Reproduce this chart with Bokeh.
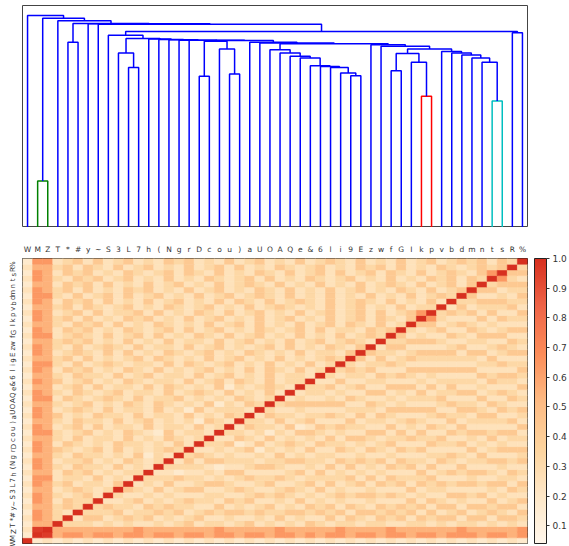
import math
import numpy as np
from bokeh.plotting import figure
from bokeh.layouts import column
from bokeh.models import (Range1d, FixedTicker, CustomJSTickFormatter, ColorBar,
                          LinearColorMapper, PrintfTickFormatter, ColumnDataSource)
from bokeh.transform import transform
from bokeh.embed import file_html
from bokeh.resources import INLINE

# ---------------- data ----------------
labels = ["W", "M", "Z", "T", "*", "#", "y", "~", "S", "3", "L", "7", "h", "(", "N", "g", "r",
          "D", "c", "o", "u", ")", "a", "U", "O", "A", "Q", "e", "&", "6", "l", "i", "9", "E",
          "z", "w", "f", "G", "I", "k", "p", "v", "b", "d", "m", "n", "t", "s", "R", "%"]

# linkage: node ids 0..49 are leaves, merge k creates node 50+k
merge_left = [1, 4, 10, 9, 17, 20, 19, 54, 32, 31, 30, 29, 28, 27, 26, 25, 24, 39, 38, 36, 69,
              46, 45, 44, 43, 42, 41, 70, 35, 34, 66, 23, 22, 57, 16, 15, 14, 13, 12, 53, 8, 48,
              90, 7, 6, 51, 3, 50, 0]
merge_right = [2, 5, 11, 52, 18, 21, 55, 56, 33, 58, 59, 60, 61, 62, 63, 64, 65, 40, 67, 37, 68,
               47, 71, 72, 73, 74, 75, 76, 77, 78, 79, 80, 81, 82, 83, 84, 85, 86, 87, 88, 89, 49,
               91, 92, 93, 94, 95, 96, 97]
merge_height = [0.210, 0.834, 0.721, 0.786, 0.681, 0.691, 0.804, 0.839, 0.684, 0.696, 0.721,
                0.725, 0.729, 0.763, 0.771, 0.786, 0.801, 0.591, 0.744, 0.706, 0.784, 0.570,
                0.744, 0.763, 0.777, 0.786, 0.793, 0.804, 0.816, 0.823, 0.828, 0.831, 0.835,
                0.842, 0.843, 0.844, 0.846, 0.847, 0.849, 0.851, 0.866, 0.877, 0.883, 0.915,
                0.918, 0.919, 0.931, 0.943, 0.955]
color_threshold = 0.65

# correlation matrix, lower triangle: row i holds columns 0..i-1 as level digits
level_values = [0.05, 0.12, 0.18, 0.25, 0.33, 0.43, 0.55, 0.64, 0.80, 0.96]
corr_rows = [
    "",
    "2",
    "39",
    "266",
    "3764",
    "27643",
    "366454",
    "2763544",
    "37643453",
    "266345434",
    "3764534435",
    "2773443534 3",
    "3663545343 44",
    "2764354435 343",
    "3763445343 5434",
    "2664354434 35243",
    "3765434535 343454",
    "2763543435 4434353",
    "3664353443 53435434",
    "2774345343 543253443",
    "3763453534 4353443534",
    "2664354435 3453434254 3",
    "3765343544 3534435343 54",
    "2763454353 4435342534 443",
    "3664345343 5435434352 4354",
    "2773543454 3534453434 35434",
    "3764354345 3443534543 534353",
    "2663453534 4353543435 2434543",
    "3765345343 5434435345 35435344",
    "2664354435 3453443534 534353443",
    "3763545343 5435343453 4353543534",
    "2774353454 3443535434 5343534353 4",
    "3664535343 4535434353 4534353434 54",
    "2763454353 5343543453 4354343534 435",
    "3764353454 3534435345 3434535343 5435",
    "2664545343 5343534435 3453435345 34543",
    "3773454353 4535343543 5345343534 353454",
    "2763545343 5434535345 3435434535 3443545",
    "3664354535 3435434353 4535343534 53543534",
    "2764535343 5453435345 3435345343 534535435",
    "3763453534 4535343543 5345343534 5345353457",
    "2664535434 5343543453 4353454343 5345343534 4",
    "3763545353 4353453435 3543534543 5345435343 53",
    "2774353453 5345343534 5345435343 5343534353 454",
    "3764535343 5453435345 3435435343 5345343543 5345",
    "2663545353 4353453435 3454353435 3435345435 34535",
    "3764354534 5343534354 3453534354 3453435343 545354",
    "2763545343 5434535435 3435435345 3534535435 3454357",
    "3664535435 3453435345 3534354345 3435453534 35434545",
    "2773453534 5343545343 5345343534 5435343534 534545354",
]

cbar_ticks = [0.1, 0.2, 0.3, 0.4, 0.5, 0.6, 0.7, 0.8, 0.9, 1.0]
cmap_anchors = ["#fff7ec", "#fee8c8", "#fdd49e", "#fdbb84", "#fc8d59", "#ef6548", "#d7301f"]
cmap_low, cmap_high = 0.04, 1.0

# ---------------- build matrix ----------------
n = len(labels)
mat = np.eye(n)
for i, row in enumerate(corr_rows):
    digits = row.replace(" ", "")
    if len(digits) != i:
        raise ValueError(f"row {i} has {len(digits)} digits")
    for j, ch in enumerate(digits):
        v = level_values[int(ch)]
        mat[i, j] = v
        mat[j, i] = v

# palette
def hex2rgb(h):
    return np.array([int(h[k:k + 2], 16) for k in (1, 3, 5)], dtype=float)

anc = np.array([hex2rgb(h) for h in cmap_anchors])
pos = np.linspace(0, 1, len(cmap_anchors))
t = np.linspace(0, 1, 256)
palette = ["#%02x%02x%02x" % tuple(int(round(np.interp(tt, pos, anc[:, c]))) for c in range(3)) for tt in t]
mapper = LinearColorMapper(palette=palette, low=cmap_low, high=cmap_high)

# ---------------- dendrogram geometry ----------------
xpos = {i: i + 0.5 for i in range(n)}
hpos = {i: 0.0 for i in range(n)}
dxs, dys, dcols = [], [], []
cluster_colors = ["#008000", "#ff0000", "#00bfbf"]
ci = 0
for k, (a, b, h) in enumerate(zip(merge_left, merge_right, merge_height)):
    node = n + k
    xa, xb = xpos[a], xpos[b]
    dxs.append([xa, xa, xb, xb])
    dys.append([hpos[a], h, h, hpos[b]])
    if h < color_threshold:
        dcols.append(cluster_colors[ci % len(cluster_colors)])
        ci += 1
    else:
        dcols.append("#0000ff")
    xpos[node] = (xa + xb) / 2
    hpos[node] = h

FONT = "DejaVu Sans"
label_fmt = CustomJSTickFormatter(args=dict(labels=labels),
                                  code="const i = Math.floor(tick); return (i >= 0 && i < labels.length) ? labels[i] : '';")
cell_ticks = [i + 0.5 for i in range(n)]

# layout sizes (content starts at the page's top-left corner)
W_LEFT, W_FRAME, W_RIGHT = 22, 506, 41
P1_TOP, P1_FRAME = 5, 222
P2_TOP, P2_FRAME, P2_BOTTOM = 31, 285, 3

# ---------------- dendrogram figure ----------------
p1 = figure(output_backend="svg", toolbar_location=None,
            width=W_LEFT + W_FRAME + W_RIGHT, height=P1_TOP + P1_FRAME,
            min_border_left=W_LEFT, min_border_right=W_RIGHT, min_border_top=P1_TOP,
            min_border_bottom=0,
            x_range=Range1d(0, n), y_range=Range1d(0, 1.0))
p1.multi_line(xs=dxs, ys=dys, line_color=dcols, line_width=1.5)
p1.xaxis.visible = False
p1.yaxis.visible = False
p1.xgrid.visible = False
p1.ygrid.visible = False
p1.outline_line_color = "#444444"
p1.outline_line_width = 1

# ---------------- heatmap figure ----------------
hx, hy, hv = [], [], []
for i in range(n):
    for j in range(n):
        hx.append(j + 0.5)
        hy.append(i + 0.5)
        hv.append(mat[i, j])
src = ColumnDataSource(dict(x=hx, y=hy, v=hv))

p2 = figure(output_backend="svg", toolbar_location=None,
            width=W_LEFT + W_FRAME + W_RIGHT, height=P2_TOP + P2_FRAME + P2_BOTTOM,
            min_border_left=W_LEFT, min_border_right=W_RIGHT, min_border_top=P2_TOP,
            min_border_bottom=P2_BOTTOM,
            x_range=Range1d(0, n), y_range=Range1d(0, n), x_axis_location="above")
p2.rect(x="x", y="y", width=1, height=1, source=src,
        fill_color=transform("v", mapper), line_color=transform("v", mapper), line_width=0.6)
p2.xgrid.visible = False
p2.ygrid.visible = False
p2.outline_line_color = "#222222"
p2.outline_line_width = 1

for ax in (p2.xaxis[0], p2.yaxis[0]):
    ax.ticker = FixedTicker(ticks=cell_ticks)
    ax.formatter = label_fmt
    ax.axis_line_color = None
    ax.major_tick_line_color = None
    ax.minor_tick_line_color = None
    ax.major_tick_out = 0
    ax.major_tick_in = 0
    ax.minor_tick_out = 0
    ax.minor_tick_in = 0
    ax.major_label_text_font = FONT
    ax.major_label_text_color = "#333333"
p2.xaxis.major_label_text_font_size = "7.5px"
p2.xaxis.major_label_standoff = 5
p2.yaxis.major_label_text_font_size = "7px"
p2.yaxis.major_label_standoff = 9
p2.yaxis.major_label_orientation = math.pi / 2

cb = ColorBar(color_mapper=mapper, width=12, height=P2_FRAME, padding=0, margin=0, location=(7, 0),
              ticker=FixedTicker(ticks=cbar_ticks), formatter=PrintfTickFormatter(format="%.1f"),
              major_label_text_font_size="9px", major_label_text_font=FONT,
              major_label_text_color="#333333",
              major_tick_in=0, major_tick_out=3, major_tick_line_color="#333333",
              bar_line_color="#222222", label_standoff=3)
p2.add_layout(cb, "right")

layout = column(p1, p2, spacing=0)
open("out.html", "w").write(file_html(layout, INLINE))
